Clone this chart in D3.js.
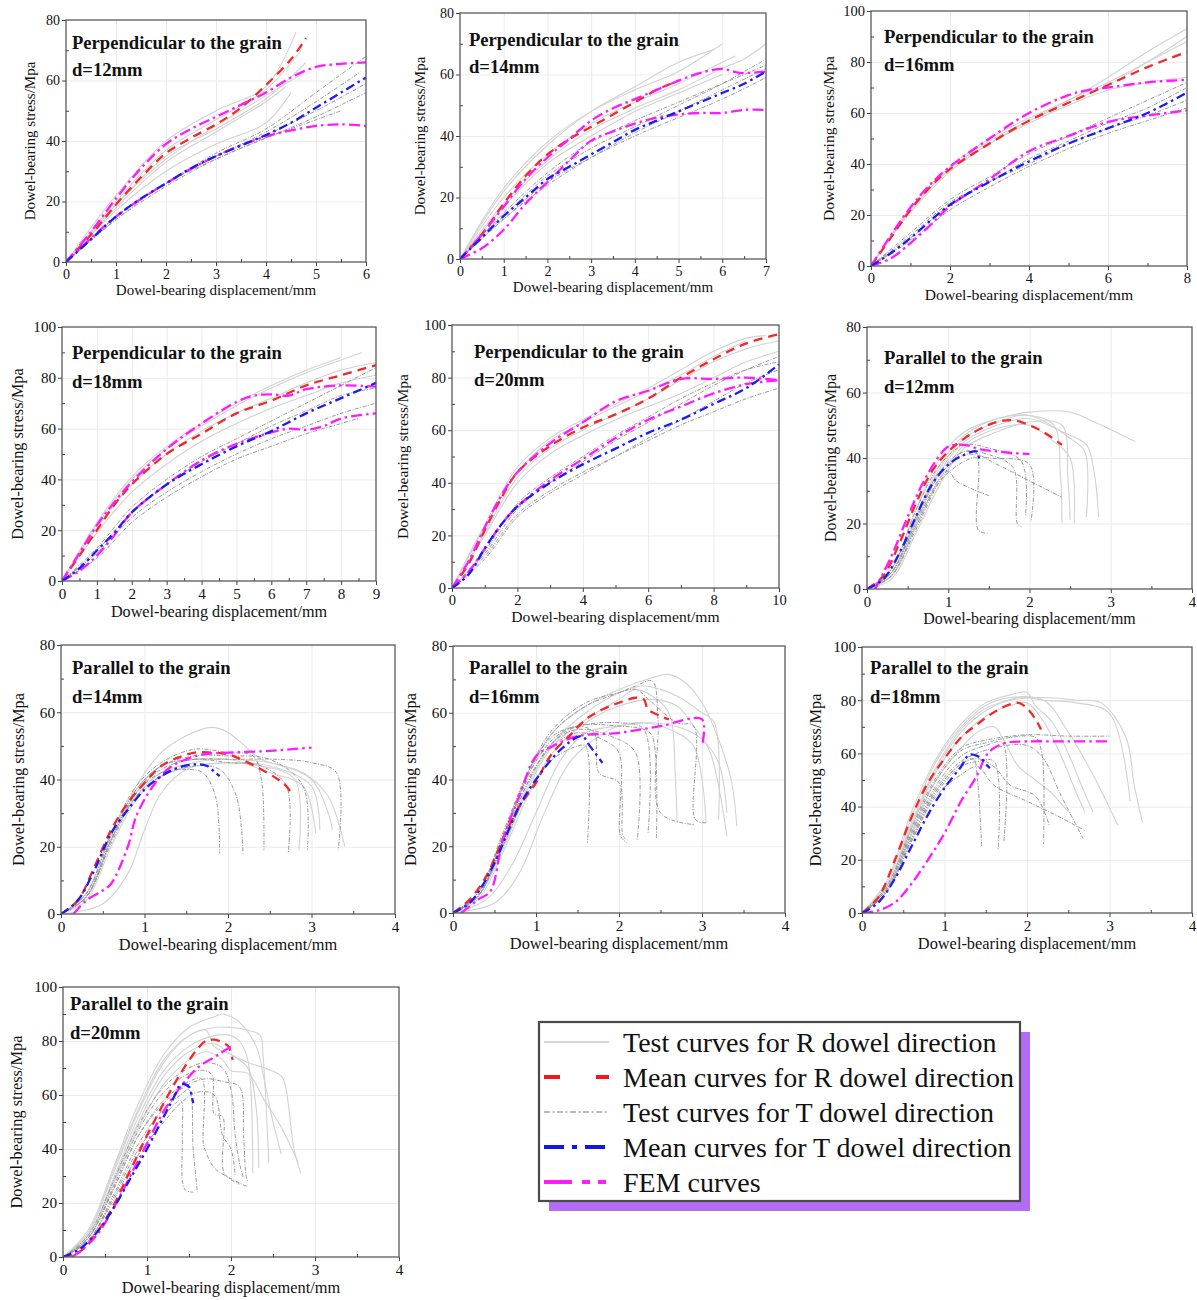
<!DOCTYPE html>
<html>
<head>
<meta charset="utf-8">
<script src="https://cdn.jsdelivr.net/npm/d3@7/dist/d3.min.js"></script>
<style>
  html, body { margin: 0; padding: 0; background: #fff; }
  svg { display: block; }
  text { font-family: "Liberation Serif", "Times New Roman", serif; fill: #111; }
</style>
</head>
<body>
<svg id="chart" width="1197" height="1300"></svg>
<script>
// ---------- panel descriptions ----------
const panelTitles = ["Perpendicular to the grain", "Perpendicular to the grain", "Perpendicular to the grain",
  "Perpendicular to the grain", "Perpendicular to the grain", "Parallel to the grain", "Parallel to the grain",
  "Parallel to the grain", "Parallel to the grain", "Parallel to the grain"];
const panelDiameters = ["d=12mm", "d=14mm", "d=16mm", "d=18mm", "d=20mm", "d=12mm", "d=14mm", "d=16mm", "d=18mm", "d=20mm"];
const xMax = [6, 7, 8, 9, 10, 4, 4, 4, 4, 4];
const yMax = [80, 80, 100, 100, 100, 80, 80, 80, 100, 100];
const xTickStep = [1, 1, 2, 1, 2, 1, 1, 1, 1, 1];
const yTickStep = [20, 20, 20, 20, 20, 20, 20, 20, 20, 20];
const xAxisTitle = "Dowel-bearing displacement/mm";
const yAxisTitle = "Dowel-bearing stress/Mpa";
const legendLabels = ["Test curves for R dowel direction", "Mean curves for R dowel direction",
  "Test curves for T dowel direction", "Mean curves for T dowel direction", "FEM curves"];

// ---------- curves: each curve is a flat list x0,y0,x1,y1,... (mm, MPa) ----------
// Perpendicular, d=12mm
const p1TestR = [
  [0,0, 1,22, 2,40, 3,50, 4,58, 4.6,76],
  [0,0, 1,20, 2,37, 3,47, 4,57, 4.7,70],
  [0,0, 1,19, 2,35, 3,44, 4,54, 4.8,66],
  [0,0, 1,18, 2,33, 3,43, 4,53, 4.4,58],
  [0,0, 1,17, 2,30, 3,39, 4,46, 4.5,56],
  [0,0, 1,19, 2,34, 3,45, 4,55, 4.7,62]];
const p1MeanR = [0,0, 0.5,9, 1,19, 1.5,28, 2,36, 2.5,41, 3,45.5, 3.5,51, 4,58.5, 4.5,67, 4.8,74];
const p1TestT = [
  [0,0, 1,15, 2,26, 3,36, 4,44, 5,56, 6,68],
  [0,0, 1,15, 2,26, 3,35, 4,43, 5,53, 5.9,63],
  [0,0, 1,14, 2,25, 3,34, 4,41, 5,48, 6,56],
  [0,0, 1,15, 2,26, 3,35, 4,42, 5,50, 6,59],
  [0,0, 1,14, 2,26, 3,34, 4,41, 5,47, 5.5,50]];
const p1MeanT = [0,0, 0.5,7.5, 1,15, 1.5,21, 2,26, 2.5,31, 3,35, 3.5,38.5, 4,42, 4.5,46, 5,51, 5.5,56, 6,61];
const p1Fem = [
  [0,0, 0.5,10, 1,21, 1.5,31, 2,39, 2.5,44, 3,48, 3.5,52, 4,56, 4.5,61, 5,64.5, 5.5,65.5, 6,66],
  [0,0, 1,15, 2,26, 3,35, 4,41.5, 4.5,43.5, 5,45, 5.5,45.5, 6,45]];

// Perpendicular, d=14mm
const p2TestR = [
  [0,0, 1,22, 2,37, 3,48, 4,56, 5,64, 5.8,68],
  [0,0, 1,20, 2,34, 3,44, 4,51, 5,57, 6,64, 6.3,66],
  [0,0, 1,18, 2,32, 3,42, 4,49, 5,55, 6,62, 6.5,65, 7,70],
  [0,0, 1,23, 2,38, 3,48, 4,55, 5,61, 6,70],
  [0,0, 1,17, 2,31, 3,40, 4,48, 5,54, 6,60]];
const p2MeanR = [0,0, 0.5,8, 1,18, 1.5,27, 2,34, 2.5,39, 3,43, 3.5,47, 4,51, 4.5,55, 5,58];
const p2TestT = [
  [0,0, 1,14, 2,27, 3,36, 4,43, 5,50, 6,57, 7,65],
  [0,0, 1,13, 2,25, 3,33, 4,40, 5,46, 6,52, 7,59],
  [0,0, 1,15, 2,28, 3,38, 4,45, 5,51, 6,57, 7,63],
  [0,0, 1,13, 2,24, 3,33, 4,41, 5,48, 6,55, 7,62]];
const p2MeanT = [0,0, 0.5,7, 1,14, 1.5,20, 2,26, 2.5,30, 3,34, 3.5,38, 4,42, 4.5,45, 5,48, 5.5,51, 6,54, 6.5,57, 7,61];
const p2Fem = [
  [0,0, 0.5,8, 1,17, 1.5,26, 2,33, 2.5,39, 3,45, 3.5,49, 4,52, 4.5,55, 5,58, 5.5,60.5, 6,61.8, 6.4,60.5, 7,61],
  [0,0, 0.5,3.5, 1,9.5, 1.5,18, 2,25, 2.5,32, 3,38.5, 3.5,41.5, 4,44, 4.5,46, 5,47, 5.5,47.5, 6,47.5, 6.5,48.5, 7,48.5]];

// Perpendicular, d=16mm
const p3TestR = [
  [0,0, 1,23, 2,39, 3,50, 4,58, 5,65, 6,74, 7,84, 8,93],
  [0,0, 1,22, 2,38, 3,49, 4,57, 5,64, 6,71, 7,80, 8,90],
  [0,0, 1,22, 2,38, 3,48, 4,56, 5,63, 6,69, 7,72, 8,74],
  [0,0, 1,21, 2,37, 3,48, 4,57, 5,65, 6,72, 7,80, 8,88]];
const p3MeanR = [0,0, 0.5,11, 1,22, 1.5,31, 2,38, 3,48, 4,57, 5,64, 6,71, 7,78, 8,84];
const p3TestT = [
  [0,0, 1,13, 2,26, 3,35, 4,44, 5,51, 6,58, 7,65, 8,72],
  [0,0, 1,12, 2,25, 3,33, 4,42, 5,49, 6,56, 7,62, 8,70],
  [0,0, 1,10, 2,22, 3,31, 4,39, 5,46, 6,52, 7,57, 8,62],
  [0,0, 1,11, 2,24, 3,33, 4,40, 5,48, 6,54, 7,59, 8,65]];
const p3MeanT = [0,0, 0.5,5, 1,11, 2,24, 3,33, 4,41, 5,48, 6,54, 7,60, 8,68];
const p3Fem = [
  [0,0, 0.5,12, 1,23, 1.5,32, 2,39, 3,50, 4,60, 5,67, 5.5,69, 6,70, 7,72, 8,73],
  [0,0, 0.5,3, 1,9, 1.5,16, 2,23.5, 3,34, 4,45, 5,51, 6,56.5, 7,59, 8,61]];

// Perpendicular, d=18mm
const p4TestR = [
  [0,0, 1,22, 2,40, 3,52, 4,61, 5,69, 6,76, 7,82, 8,87, 8.6,90],
  [0,0, 1,21, 2,38, 3,50, 4,59, 5,66, 6,72, 7,78, 8,83, 9,86],
  [0,0, 1,19, 2,35, 3,46, 4,55, 5,62, 6,68, 7,73, 8,78, 9,81],
  [0,0, 1,23, 2,41, 3,53, 4,62, 5,70, 6,77, 7,83, 8,88]];
const p4MeanR = [0,0, 0.5,10, 1,20, 1.5,30, 2,38, 3,50, 4,58, 5,66, 6,71, 7,77, 8,81, 9,85];
const p4TestT = [
  [0,0, 1,13, 2,29, 3,40, 4,49, 5,56, 6,63, 7,70, 8,77, 9,84],
  [0,0, 1,11, 2,25, 3,35, 4,43, 5,50, 6,56, 7,61, 8,66, 9,70],
  [0,0, 1,9, 2,23, 3,33, 4,41, 5,48, 6,53, 7,58, 8,62, 8.5,64],
  [0,0, 1,12, 2,27, 3,38, 4,47, 5,54, 6,61, 7,67, 8,73, 9,76]];
const p4MeanT = [0,0, 0.5,5, 1,12, 1.5,19, 2,27, 3,38, 4,46, 5,53, 6,59, 7,66, 8,72, 9,78];
const p4Fem = [
  [0,0, 0.5,11, 1,22, 1.5,31, 2,39, 3,52, 4,62, 5,70.5, 5.5,73, 6,73.5, 6.5,73, 7,75.5, 8,77, 9,76.5],
  [0,0, 0.5,4, 1,10, 1.5,18, 2,27, 3,38, 4,47.5, 5,54, 6,58.5, 6.5,60, 7,59.5, 7.5,61, 8,64, 9,66]];

// Perpendicular, d=20mm
const p5TestR = [
  [0,0, 1,24, 2,46, 3,57, 4,64, 5,70, 6,76, 7,83, 8,90, 9,95, 9.6,96],
  [0,0, 1,21, 2,42, 3,53, 4,60, 5,66, 6,72, 7,79, 8,86, 9,91, 10,94],
  [0,0, 1,20, 2,40, 3,51, 4,58, 5,64, 6,69, 7,74, 8,80, 9,86, 10,90],
  [0,0, 1,23, 2,44, 3,56, 4,63, 5,69, 6,75, 7,81, 8,88, 9,94]];
const p5MeanR = [0,0, 0.5,9, 1,22, 1.5,34, 2,44, 3,54, 4,61, 5,66, 6,72, 7,80, 8,87, 9,93, 10,96.5];
const p5TestT = [
  [0,0, 1,13, 2,30, 3,40, 4,48, 5,56, 6,63, 7,70, 8,77, 9,83, 10,88],
  [0,0, 1,12, 2,28, 3,37, 4,44, 5,50, 6,56, 7,62, 8,67, 9,72, 10,76],
  [0,0, 1,14, 2,32, 3,42, 4,50, 5,58, 6,65, 7,72, 8,78, 9,83, 10,86],
  [0,0, 1,11, 2,27, 3,36, 4,43, 5,50, 6,57, 7,64, 8,71, 9,78, 10,83]];
const p5MeanT = [0,0, 0.5,5, 1,15, 1.5,24, 2,31, 3,40, 4,47, 5,53, 6,59, 7,64, 8,70, 9,76, 10,85];
const p5Fem = [
  [0,0, 0.5,10, 1,23, 1.5,35, 2,44, 3,55, 4,63, 5,71, 6,75, 7,79.5, 8,79.5, 9,80, 10,79],
  [0,0, 0.5,6, 1,15, 1.5,24, 2,31, 3,41, 4,49, 5,57, 6,64, 7,69, 8,74, 9,77.5, 10,79]];

// Parallel, d=12mm
const p6TestR = [
  [0,0, 0.3,6, 0.6,24, 0.9,40, 1.2,48, 1.6,52, 2,54, 2.5,54, 2.8,51, 3.3,45],
  [0,0, 0.3,5, 0.6,22, 0.9,38, 1.2,47, 1.6,52, 2,53, 2.3,50, 2.38,35, 2.4,20],
  [0,0, 0.3,4, 0.6,20, 0.9,36, 1.2,45, 1.6,50, 2,52, 2.4,48, 2.7,44, 2.8,35, 2.85,22],
  [0,0, 0.3,4, 0.6,19, 0.9,34, 1.2,44, 1.6,49, 2,50, 2.3,45, 2.5,40, 2.55,20],
  [0,0, 0.3,3, 0.6,17, 0.9,32, 1.2,43, 1.6,48, 2,51, 2.4,50, 2.47,35, 2.5,21],
  [0,0, 0.3,5, 0.6,21, 0.9,37, 1.2,46, 1.6,51, 2,53, 2.5,46, 2.68,42, 2.7,22]];
const p6MeanR = [0,0, 0.2,4, 0.4,14, 0.6,26, 0.8,36, 1,42, 1.2,46, 1.4,49, 1.6,51, 1.8,51.5, 2,50, 2.2,47.5, 2.4,44];
const p6TestT = [
  [0,0, 0.3,5, 0.6,20, 0.9,34, 1,36, 1.1,33, 1.3,30.5, 1.5,28.5],
  [0,0, 0.3,4, 0.6,19, 0.9,33, 1.2,39, 1.35,40, 1.37,18, 1.5,17],
  [0,0, 0.3,5, 0.6,22, 0.9,36, 1.2,42, 1.5,41, 1.8,37, 1.85,20, 1.9,19],
  [0,0, 0.3,6, 0.6,24, 0.9,38, 1.2,44, 1.5,43, 1.9,39, 1.95,22],
  [0,0, 0.3,5, 0.6,21, 0.9,35, 1.2,41, 1.5,40, 2,38, 2.02,21],
  [0,0, 0.3,4, 0.6,18, 0.9,33, 1.2,42, 1.6,38, 2,33, 2.4,28]];
const p6MeanT = [0,0, 0.2,3, 0.4,11, 0.6,22, 0.8,32, 1,38, 1.2,41, 1.35,42, 1.38,39];
const p6Fem = [
  [0.1,0, 0.3,10, 0.5,22, 0.7,33, 0.9,41, 1,43.5, 1.2,44, 1.4,42.6, 1.6,42, 1.8,41.5, 2,41.2]];

// Parallel, d=14mm
const p7TestR = [
  [0,0, 0.3,5, 0.6,22, 0.9,38, 1.2,48, 1.5,53, 1.8,55.5, 2,54, 2.2,50, 2.4,46, 2.9,42, 3.2,35, 3.4,20],
  [0,0, 0.3,6, 0.6,24, 0.9,37, 1.2,44, 1.6,46, 2,46, 2.5,45, 3,40, 3.2,30, 3.25,25],
  [0,0, 0.5,3, 0.8,12, 1,25, 1.2,36, 1.5,43, 2,45, 2.5,44, 3,38, 3.1,25],
  [0,0, 0.3,5, 0.6,22, 0.9,35, 1.2,42, 1.6,45, 2,46, 2.5,42, 2.9,38, 3.05,24],
  [0,0, 0.3,4, 0.6,20, 0.9,34, 1.2,41, 1.6,44, 2,45, 2.4,44, 2.8,40, 2.85,19]];
const p7MeanR = [0,0, 0.2,4, 0.4,14, 0.6,25, 0.8,33, 1,39, 1.2,44, 1.4,46.5, 1.6,48, 1.8,48, 2,47.5, 2.2,45.5, 2.4,43, 2.6,40, 2.7,38, 2.78,35];
const p7TestT = [
  [0,0, 0.3,5, 0.6,22, 0.9,36, 1.2,42, 1.5,43, 1.7,42, 1.85,35, 1.9,18],
  [0,0, 0.3,5, 0.6,21, 0.9,35, 1.2,41, 1.6,44, 1.9,43, 2.1,35, 2.18,18],
  [0,0, 0.3,6, 0.6,24, 0.9,38, 1.2,45, 1.6,49, 2,48, 2.3,47, 2.4,40, 2.43,19],
  [0,0, 0.3,5, 0.6,22, 0.9,36, 1.2,43, 1.6,46, 2,45, 2.4,44, 2.7,38, 2.72,18],
  [0,0, 0.3,6, 0.6,23, 0.9,37, 1.2,44, 1.6,47, 2,47, 2.5,46, 2.9,38, 2.95,19],
  [0,0, 0.3,5, 0.6,22, 0.9,36, 1.2,44, 1.6,46, 2,46, 2.6,46, 3,45, 3.3,42, 3.32,19]];
const p7MeanT = [0,0, 0.2,4, 0.4,13, 0.6,24, 0.8,31, 1,37, 1.2,41, 1.4,43.5, 1.6,44.5, 1.75,44, 1.85,42, 1.9,41];
const p7Fem = [
  [0.15,0, 0.3,4, 0.5,7, 0.6,9, 0.8,20, 0.9,29, 1.1,38, 1.3,43.5, 1.5,46, 1.7,47.5, 2,48, 2.5,48.5, 3,49.5]];

// Parallel, d=16mm
const p8TestR = [
  [0,0, 0.3,6, 0.6,22, 0.9,42, 1.2,54, 1.6,62, 2,67, 2.4,70.5, 2.6,71.5, 2.8,69, 3,63, 3.2,52, 3.35,40, 3.42,26],
  [0,0, 0.3,5, 0.6,20, 0.9,38, 1.2,51, 1.6,60, 2,66, 2.3,68, 2.5,67, 2.7,65, 3,60, 3.15,57, 3.2,28],
  [0,0, 0.3,4, 0.6,18, 0.9,35, 1.2,48, 1.6,57, 2,62, 2.4,64, 2.7,62, 2.9,56, 3.1,48, 3.3,23],
  [0,0, 0.4,4, 0.7,14, 1,30, 1.3,46, 1.6,54, 2,56, 2.4,57, 2.8,55, 3,52, 3.2,45, 3.3,30],
  [0,0, 0.3,5, 0.6,19, 0.9,37, 1.2,50, 1.6,58, 2,64, 2.2,67, 2.4,65, 2.6,60, 2.68,40, 2.7,27],
  [0,0, 0.5,3, 0.8,12, 1.1,30, 1.4,45, 1.7,52, 2,56, 2.3,57, 2.7,54, 2.9,50, 3.0,40, 3.05,27]];
const p8MeanR = [0,0, 0.2,4, 0.4,11, 0.6,22, 0.8,32, 1,39, 1.1,44, 1.2,48, 1.4,53, 1.6,58, 1.8,61, 2,63, 2.2,64.5, 2.3,64, 2.35,61, 2.5,59, 2.6,58];
const p8TestT = [
  [0,0, 0.3,5, 0.6,20, 0.9,36, 1.2,46, 1.5,50, 1.6,50, 1.62,21],
  [0,0, 0.3,5, 0.6,22, 0.9,40, 1.2,50, 1.5,54, 1.8,52, 2,48, 2.02,23, 2.1,21],
  [0,0, 0.3,6, 0.6,23, 0.9,41, 1.2,52, 1.5,56, 1.7,54, 1.76,42, 2,39, 2.05,23, 2.1,22],
  [0,0, 0.3,5, 0.6,21, 0.9,39, 1.2,51, 1.5,55, 1.9,53, 2.2,48, 2.22,22],
  [0,0, 0.3,6, 0.6,23, 0.9,42, 1.2,53, 1.5,56, 2,57, 2.3,55, 2.35,24],
  [0,0, 0.3,5, 0.6,22, 0.9,41, 1.2,54, 1.6,62, 2,66, 2.2,68, 2.4,69.5, 2.47,58, 2.5,30, 2.9,26.5],
  [0,0, 0.3,6, 0.6,24, 0.9,42, 1.2,55, 1.6,63, 2,66, 2.2,67, 2.4,63, 2.7,57, 2.9,56, 2.92,28, 3.05,27],
  [0,0, 0.3,5, 0.6,21, 0.9,39, 1.2,51, 1.5,56, 2,56, 2.3,55, 2.4,53, 2.45,22]];
const p8MeanT = [0,0, 0.2,3, 0.35,8, 0.5,15, 0.8,32, 1,40, 1.3,49, 1.55,53, 1.65,50, 1.8,45];
const p8Fem = [
  [0.1,0, 0.3,4, 0.45,6.5, 0.6,22, 0.8,35, 1,47, 1.2,50, 1.5,53, 2,54, 2.5,56, 3,58, 3,50]];

// Parallel, d=18mm
const p9TestR = [
  [0,0, 0.3,12, 0.6,38, 0.9,58, 1.2,71, 1.5,79, 1.8,82, 2,83, 2.1,78, 2.3,72, 2.5,60, 2.7,45, 2.8,38],
  [0,0, 0.3,10, 0.6,34, 0.9,55, 1.2,69, 1.5,77, 1.8,80, 2.2,81, 2.6,80, 2.9,79, 3.2,66, 3.3,48, 3.4,34],
  [0,0, 0.3,11, 0.6,36, 0.9,57, 1.2,70, 1.5,78, 1.8,81, 2.2,80, 2.5,68, 2.8,52, 3.1,33],
  [0,0, 0.3,9, 0.6,32, 0.9,53, 1.2,66, 1.5,74, 1.8,78, 2,79, 2.2,72, 2.4,60, 2.6,45, 2.7,38],
  [0,0, 0.3,10, 0.6,33, 0.9,54, 1.2,68, 1.5,76, 1.9,81, 2.2,80, 2.6,79, 3,75, 3.25,42],
  [0,0, 0.3,8, 0.6,30, 0.9,50, 1.2,62, 1.4,68, 1.6,70, 1.7,66, 1.9,55, 2.1,50, 2.3,45, 2.5,38]];
const p9MeanR = [0,0, 0.2,6, 0.4,20, 0.6,36, 0.8,49, 1,58, 1.2,66, 1.4,71, 1.6,75.5, 1.8,78.5, 1.9,79, 2,77, 2.1,73, 2.17,69];
const p9TestT = [
  [0,0, 0.3,8, 0.6,28, 0.9,46, 1.2,56, 1.35,58, 1.4,50, 1.45,25],
  [0,0, 0.3,8, 0.6,27, 0.9,45, 1.2,55, 1.4,57, 1.6,57, 1.65,24],
  [0,0, 0.3,9, 0.6,30, 0.9,48, 1.2,59, 1.5,63, 1.7,64, 1.72,27],
  [0,0, 0.3,9, 0.6,31, 0.9,50, 1.2,61, 1.5,64, 1.8,66, 2.1,66, 2.18,60, 2.2,26],
  [0,0, 0.3,10, 0.6,32, 0.9,51, 1.2,62, 1.5,65, 2,67, 2.5,66.5, 3,66.5],
  [0,0, 0.3,8, 0.6,28, 0.9,46, 1.2,56, 1.4,58, 1.6,55, 1.8,48, 2.1,44, 2.27,33],
  [0,0, 0.3,8, 0.6,27, 0.9,44, 1.2,52, 1.4,55, 1.6,48, 2,42, 2.4,36, 2.7,31],
  [0,0, 0.3,9, 0.6,29, 0.9,47, 1.2,57, 1.6,62, 2,63, 2.2,58, 2.4,45, 2.68,28]];
const p9MeanT = [0,0, 0.2,4, 0.4,13, 0.6,25, 0.8,37, 1,47, 1.2,55, 1.3,59.5, 1.4,59, 1.45,58, 1.5,56, 1.55,54.5];
const p9Fem = [
  [0,0, 0.2,1, 0.4,4, 0.6,11, 0.8,20, 1,30, 1.2,42, 1.4,52, 1.5,59, 1.6,62, 1.75,64, 2,64.5, 2.5,64.5, 3,64.5]];

// Parallel, d=20mm
const p10TestR = [
  [0,0, 0.3,10, 0.6,33, 0.9,57, 1.2,75, 1.5,85, 1.8,89, 1.9,90, 2,89, 2.1,87, 2.3,78, 2.4,65, 2.5,50, 2.6,38],
  [0,0, 0.3,9, 0.6,31, 0.9,54, 1.2,72, 1.5,82, 1.8,85, 2,85, 2.2,84, 2.35,82, 2.38,75, 2.45,35],
  [0,0, 0.3,8, 0.6,29, 0.9,52, 1.2,69, 1.5,78, 1.8,82, 2,82, 2.1,80, 2.2,73, 2.26,31],
  [0,0, 0.3,8, 0.6,28, 0.9,50, 1.2,67, 1.5,76, 1.8,79, 2,75, 2.2,72, 2.4,70, 2.6,67, 2.65,63, 2.75,40, 2.83,31],
  [0,0, 0.3,7, 0.6,27, 0.9,48, 1.2,64, 1.5,73, 1.7,76, 1.9,73, 2,69, 2.2,68, 2.4,58, 2.6,48, 2.8,35],
  [0,0, 0.3,9, 0.6,32, 0.9,55, 1.2,73, 1.5,82, 1.7,84, 1.8,78, 2,75, 2.2,70, 2.3,55, 2.33,33]];
const p10MeanR = [0,0, 0.2,2, 0.4,9, 0.6,19, 0.8,32, 1,45, 1.2,57, 1.4,68, 1.6,77, 1.7,80, 1.8,80.5, 1.9,79.5, 1.97,78, 2.02,73];
const p10TestT = [
  [0,0, 0.3,6, 0.6,22, 0.9,40, 1.2,52, 1.4,58, 1.42,45, 1.45,25, 1.55,24],
  [0,0, 0.3,6, 0.6,23, 0.9,42, 1.2,55, 1.4,60, 1.5,62, 1.55,40, 1.6,24],
  [0,0, 0.3,7, 0.6,25, 0.9,45, 1.2,58, 1.5,65, 1.65,66, 1.67,42, 1.7,39, 1.8,33, 2,29, 2.2,26],
  [0,0, 0.3,7, 0.6,26, 0.9,47, 1.2,61, 1.5,68, 1.7,69, 1.78,67, 1.8,53, 1.9,52, 1.92,31, 2.1,27],
  [0,0, 0.3,8, 0.6,28, 0.9,49, 1.2,63, 1.5,70, 1.7,72, 1.9,70, 2,62, 2.05,45, 2.1,35, 2.15,29],
  [0,0, 0.3,7, 0.6,25, 0.9,45, 1.2,57, 1.5,64, 1.7,66, 1.9,65, 2.1,63, 2.15,45, 2.18,30, 2.2,28],
  [0,0, 0.3,6, 0.6,21, 0.9,38, 1.2,50, 1.4,57, 1.6,61, 1.8,60, 1.9,45, 2,40, 2.05,30]];
const p10MeanT = [0,0, 0.2,3, 0.4,9, 0.6,18, 0.8,29, 1,40, 1.2,52, 1.35,61, 1.4,64, 1.5,63, 1.53,60, 1.55,57];
const p10Fem = [
  [0.1,0, 0.2,2, 0.4,8, 0.6,18, 0.8,30, 1,42, 1.2,54, 1.4,63, 1.6,70, 1.8,74, 1.9,76, 2,78]];

const testR = [p1TestR, p2TestR, p3TestR, p4TestR, p5TestR, p6TestR, p7TestR, p8TestR, p9TestR, p10TestR];
const meanR = [p1MeanR, p2MeanR, p3MeanR, p4MeanR, p5MeanR, p6MeanR, p7MeanR, p8MeanR, p9MeanR, p10MeanR];
const testT = [p1TestT, p2TestT, p3TestT, p4TestT, p5TestT, p6TestT, p7TestT, p8TestT, p9TestT, p10TestT];
const meanT = [p1MeanT, p2MeanT, p3MeanT, p4MeanT, p5MeanT, p6MeanT, p7MeanT, p8MeanT, p9MeanT, p10MeanT];
const fem = [p1Fem, p2Fem, p3Fem, p4Fem, p5Fem, p6Fem, p7Fem, p8Fem, p9Fem, p10Fem];

// ---------- page layout (plot boxes in px) ----------
const frames = [
  { l: 66,  r: 366,  t: 20,  b: 262,  fs: 1.00, tx: 6,  ty: 29, yl: -36 },
  { l: 460, r: 766,  t: 13,  b: 259,  fs: 1.00, tx: 9,  ty: 33, yl: -40 },
  { l: 871, r: 1187, t: 11,  b: 266,  fs: 1.04, tx: 13, ty: 32, yl: -42 },
  { l: 62,  r: 376,  t: 327, b: 581,  fs: 1.08, tx: 10, ty: 32, yl: -44 },
  { l: 452, r: 779,  t: 325, b: 588,  fs: 1.04, tx: 22, ty: 33, yl: -49 },
  { l: 867, r: 1192, t: 327, b: 589,  fs: 1.06, tx: 17, ty: 37, yl: -36 },
  { l: 61,  r: 395,  t: 645, b: 914,  fs: 1.09, tx: 11, ty: 29, yl: -42 },
  { l: 453, r: 785,  t: 646, b: 913,  fs: 1.09, tx: 16, ty: 28, yl: -42 },
  { l: 862, r: 1192, t: 647, b: 913,  fs: 1.09, tx: 8,  ty: 27, yl: -46 },
  { l: 63,  r: 399,  t: 987, b: 1257, fs: 1.09, tx: 7,  ty: 23, yl: -46 }
];

const styles = {
  testR: { stroke: "#d2d2d2", width: 1.1, dash: null },
  testT: { stroke: "#9a9a9a", width: 1.0, dash: "4,1.5,1,1.5" },
  meanR: { stroke: "#f02a2a", width: 2.3, dash: "9,6" },
  meanT: { stroke: "#1c1cf0", width: 2.3, dash: "9,4,2.5,4" },
  fem:   { stroke: "#ff1aff", width: 2.3, dash: "11,4,2.5,4" }
};

const svg = d3.select("#chart");
const toPts = flat => d3.range(0, flat.length, 2).map(i => [flat[i], flat[i + 1]]);

frames.forEach((f, i) => {
  const x = d3.scaleLinear().domain([0, xMax[i]]).range([f.l, f.r]);
  const y = d3.scaleLinear().domain([0, yMax[i]]).range([f.b, f.t]);
  const g = svg.append("g");
  const w = f.r - f.l, h = f.b - f.t;
  const xs = d3.range(0, xMax[i] + 1e-9, xTickStep[i]);
  const ys = d3.range(0, yMax[i] + 1e-9, yTickStep[i]);
  const xm = d3.range(xTickStep[i] / 2, xMax[i], xTickStep[i]);
  const ym = d3.range(yTickStep[i] / 2, yMax[i], yTickStep[i]);

  // grid
  g.append("g").attr("transform", `translate(0,${f.b})`)
    .call(d3.axisBottom(x).tickValues(xs.slice(1, -1)).tickSize(-h).tickFormat(""))
    .call(a => a.select(".domain").remove())
    .call(a => a.selectAll("line").attr("stroke", "#ebebeb"));
  g.append("g").attr("transform", `translate(${f.l},0)`)
    .call(d3.axisLeft(y).tickValues(ys.slice(1, -1)).tickSize(-w).tickFormat(""))
    .call(a => a.select(".domain").remove())
    .call(a => a.selectAll("line").attr("stroke", "#ebebeb"));

  // curves
  const clipId = "clip" + i;
  svg.append("clipPath").attr("id", clipId).append("rect")
    .attr("x", f.l).attr("y", f.t - 2).attr("width", w + 2).attr("height", h + 2);
  const cg = g.append("g").attr("clip-path", `url(#${clipId})`);
  const line = d3.line().x(d => x(d[0])).y(d => y(d[1])).curve(d3.curveCatmullRom.alpha(0.5));
  const draw = (flat, st) => cg.append("path").attr("d", line(toPts(flat)))
    .attr("fill", "none").attr("stroke", st.stroke).attr("stroke-width", st.width)
    .attr("stroke-dasharray", st.dash).attr("stroke-linejoin", "round");
  testR[i].forEach(c => draw(c, styles.testR));
  testT[i].forEach(c => draw(c, styles.testT));
  draw(meanR[i], styles.meanR);
  fem[i].forEach(c => draw(c, styles.fem));
  draw(meanT[i], styles.meanT);

  // frame
  g.append("rect").attr("x", f.l).attr("y", f.t).attr("width", w).attr("height", h)
    .attr("fill", "none").attr("stroke", "#5a5a5a").attr("stroke-width", 1.3);

  const tfs = 14 * f.fs;
  // x axis: major ticks outward, minor inward
  const ax = g.append("g").attr("transform", `translate(0,${f.b})`)
    .call(d3.axisBottom(x).tickValues(xs).tickSize(4).tickPadding(3).tickFormat(d3.format("d")));
  ax.select(".domain").remove();
  ax.selectAll("line").attr("stroke", "#444");
  ax.selectAll("text").attr("font-size", tfs).attr("font-family", "Liberation Serif").attr("fill", "#222");
  const axm = g.append("g").attr("transform", `translate(0,${f.b})`)
    .call(d3.axisBottom(x).tickValues(xm).tickSize(-3).tickFormat(""));
  axm.select(".domain").remove();
  axm.selectAll("line").attr("stroke", "#444");

  const ay = g.append("g").attr("transform", `translate(${f.l},0)`)
    .call(d3.axisLeft(y).tickValues(ys).tickSize(4).tickPadding(2).tickFormat(d3.format("d")));
  ay.select(".domain").remove();
  ay.selectAll("line").attr("stroke", "#444");
  ay.selectAll("text").attr("font-size", tfs).attr("font-family", "Liberation Serif").attr("fill", "#222");
  const aym = g.append("g").attr("transform", `translate(${f.l},0)`)
    .call(d3.axisLeft(y).tickValues(ym).tickSize(-3).tickFormat(""));
  aym.select(".domain").remove();
  aym.selectAll("line").attr("stroke", "#444");

  // axis titles
  const afs = 15 * f.fs;
  g.append("text").attr("x", (f.l + f.r) / 2).attr("y", f.b + 33 * f.fs)
    .attr("text-anchor", "middle").attr("font-size", afs).text(xAxisTitle);
  g.append("text").attr("transform", `translate(${f.l + f.yl + 5},${(f.t + f.b) / 2}) rotate(-90)`)
    .attr("text-anchor", "middle").attr("font-size", afs).text(yAxisTitle);

  // panel title
  const hfs = 18.6;
  g.append("text").attr("x", f.l + f.tx).attr("y", f.t + f.ty)
    .attr("font-size", hfs).attr("font-weight", "bold").text(panelTitles[i]);
  g.append("text").attr("x", f.l + f.tx).attr("y", f.t + f.ty + 27 * f.fs)
    .attr("font-size", hfs).attr("font-weight", "bold").text(panelDiameters[i]);
});

// ---------- legend ----------
const lg = svg.append("g");
const box = { x: 539, y: 1022, w: 481, h: 179 };
lg.append("rect").attr("x", box.x + 10).attr("y", box.y + 10).attr("width", box.w).attr("height", box.h)
  .attr("fill", "#b26cf5");
lg.append("rect").attr("x", box.x).attr("y", box.y).attr("width", box.w).attr("height", box.h)
  .attr("fill", "#fff").attr("stroke", "#4a4a4a").attr("stroke-width", 2.2);
const legendStyles = [
  { stroke: "#c8c8c8", width: 1.3, dash: null },
  { stroke: "#f01818", width: 4, dash: "16,36" },
  { stroke: "#a8a8a8", width: 1.3, dash: "6,2.5,2,2.5" },
  { stroke: "#1414f0", width: 4, dash: "20,8,5,8" },
  { stroke: "#ff1aff", width: 4, dash: "28,10,8,8,8" }
];
legendLabels.forEach((lab, k) => {
  const cy = box.y + 20 + k * 35;
  const st = legendStyles[k];
  lg.append("line").attr("x1", 544).attr("x2", 609).attr("y1", cy).attr("y2", cy)
    .attr("stroke", st.stroke).attr("stroke-width", st.width).attr("stroke-dasharray", st.dash);
  lg.append("text").attr("x", 623).attr("y", cy + 10).attr("font-size", 28).attr("fill", "#111").text(lab);
});
</script>
</body>
</html>
